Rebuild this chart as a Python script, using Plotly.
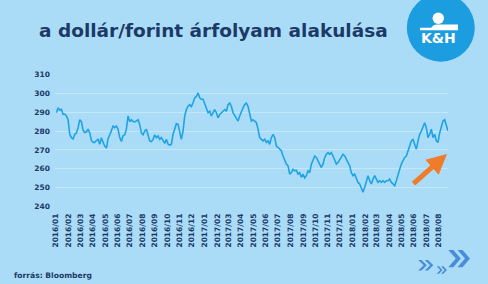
import plotly.graph_objects as go
import pandas as pd

# ---------------- data ----------------
title_text = "a dollár/forint árfolyam alakulása"
source_text = "forrás: Bloomberg"
date_start = "2016-01-02"
date_end = "2018-08-24"

rate_2016 = [289.7, 292.3, 291, 291.5, 288.8, 289, 288, 286, 278.3, 276.5,
             275.8, 278.3, 279, 281.8, 286, 285, 280.5, 279.2, 279.5, 281,
             279, 275, 274, 274, 275, 275.6, 273, 276.5, 274, 272,
             271, 276, 278, 280, 282.6, 281.8, 282.6, 281, 276.5, 274.5,
             277.5, 278, 281, 288, 285, 286, 285, 284.8, 285.5, 286,
             283.5, 279, 278, 280, 281, 277.4, 274.8, 274.4, 275.6, 278]
rate_2016b = [276.5, 277.4, 275.6, 276.5, 274.8, 273.5, 275.6, 273, 272.6, 273,
              278.3, 281, 283.9, 283.5, 280, 275.6, 280, 288, 291.4, 293.2,
              294, 293, 295, 297.6, 298.3, 300.2, 297.6, 296.8, 296.8, 294,
              292.3, 289.7, 290.5, 288, 289.7, 291.4, 289.7, 287, 288.8, 289.7,
              290.5, 291.4, 290.5, 294, 294.8, 293, 289.7, 288, 287, 285.3,
              288, 290.5, 292.3, 294, 294.8, 293, 289.7, 285.3, 286, 285.3]
rate_2017 = [284.5, 281, 276.5, 275.6, 274.8, 275.6, 274, 274.8, 273, 276.5,
             278.3, 276.5, 272.1, 271.3, 270.4, 269.6, 266.8, 265, 262.5, 261.6,
             257.2, 258, 259.8, 259, 259.3, 257.2, 258, 255.5, 257.2, 255.2,
             256.4, 259, 258, 262.5, 265, 266.8, 266, 264.2, 261.6, 260.7,
             262.5, 266, 267.7, 268.6, 267.7, 268.6, 266.8, 264.2, 262.5, 263.3,
             265, 266.8, 267.7, 266.8, 265, 262.5, 261.6, 258, 256.4, 257.2]
rate_2018 = [254.6, 252.8, 252, 249.3, 247.6, 250.2, 252.8, 256.3, 253.7, 252,
             254.6, 256.4, 254.6, 252.8, 253.7, 252.8, 253.7, 252.8, 253.7, 253.7,
             254.6, 252.8, 252, 251.1, 253.7, 257.2, 259.8, 262.5, 264.2, 266,
             266.8, 269.6, 272.1, 274.8, 275.6, 273, 270.4, 274.8, 278.3, 280,
             281.8, 284.4, 281.8, 276.5, 278.3, 281, 276.5, 278.3, 274.8, 274,
             279, 282.6, 285.3, 286, 282.6, 280]

month_labels = [f"{y}/{m:02d}" for y in (2016, 2017, 2018) for m in range(1, 13)][:32]
y_ticks = [240, 250, 260, 270, 280, 290, 300, 310]

# ---------------- build ----------------
rates = rate_2016 + rate_2016b + rate_2017 + rate_2018
dates = pd.date_range(date_start, date_end, periods=len(rates))
tickvals = [lbl.replace("/", "-") + "-01" for lbl in month_labels]

BG = "#abdcf7"
NAVY = "#1b3a68"
LINE = "#1ea4e4"
FONT = "DejaVu Sans"

W, H = 488, 284
L, R, T, B = 55, 40, 74, 77
PW, PH = W - L - R, H - T - B


def px(x):
    return (x - L) / PW


def py(y):
    return (T + PH - y) / PH


fig = go.Figure()
fig.add_trace(go.Scatter(x=dates, y=rates, mode="lines",
                         line=dict(color=LINE, width=1.6), hoverinfo="skip"))

fig.update_layout(
    width=W, height=H,
    margin=dict(l=L, r=R, t=T, b=B),
    paper_bgcolor=BG, plot_bgcolor=BG,
    showlegend=False,
    font=dict(family=FONT, color=NAVY),
    xaxis=dict(range=["2015-12-29 12:00", "2018-08-24"],
               tickvals=tickvals, ticktext=month_labels,
               tickangle=-90, showgrid=False, zeroline=False, showline=False,
               tickfont=dict(family=FONT, size=7.5, color=NAVY, weight="bold"),
               ticks="", ticklabelstandoff=4),
    yaxis=dict(range=[239.8, 310.2], tickvals=y_ticks,
               showgrid=True, gridcolor="#c3e7fb", gridwidth=1,
               zeroline=False, showline=False, ticks="",
               tickfont=dict(family=FONT, size=7.5, color=NAVY, weight="bold"),
               ticklabelstandoff=4),
)

shapes = []
# logo circle
cx, cy, rr = 440.8, 27.7, 34
shapes.append(dict(type="circle", xref="paper", yref="paper",
                   x0=px(cx - rr), x1=px(cx + rr), y0=py(cy + rr), y1=py(cy - rr),
                   fillcolor="#1c9ddf", line=dict(width=0), layer="above"))
# logo head
hx, hy, hr = 438.3, 18.3, 5.7
shapes.append(dict(type="circle", xref="paper", yref="paper",
                   x0=px(hx - hr), x1=px(hx + hr), y0=py(hy + hr), y1=py(hy - hr),
                   fillcolor="white", line=dict(width=0), layer="above"))
# logo bar
bar = [(420, 27.8), (431, 27.8), (434, 25.0), (437, 24.6), (458, 24.6), (458, 30.2), (420, 30.2)]
path = "M " + " L ".join(f"{px(a):.5f},{py(b):.5f}" for a, b in bar) + " Z"
shapes.append(dict(type="path", xref="paper", yref="paper", path=path,
                   fillcolor="white", line=dict(width=0), layer="above"))


def chevron(x0, yc, w, h, t):
    pts = [(x0, yc - h / 2), (x0 + t, yc - h / 2), (x0 + w, yc), (x0 + t, yc + h / 2),
           (x0, yc + h / 2), (x0 + w - t, yc)]
    return "M " + " L ".join(f"{px(a):.5f},{py(b):.5f}" for a, b in pts) + " Z"


CHEV = "#4a8cd8"
for (x0, yc, w, h, t, gap) in [(418.3, 265.3, 8.5, 10.5, 3.2, 6.5),
                                (436.7, 270.0, 5.8, 7.5, 2.3, 4.4),
                                (448.3, 258.6, 12.5, 17.3, 5.0, 9.2)]:
    for k in range(2):
        shapes.append(dict(type="path", xref="paper", yref="paper",
                           path=chevron(x0 + k * gap, yc, w, h, t),
                           fillcolor=CHEV, line=dict(width=0), layer="above"))

fig.update_layout(shapes=shapes)

annotations = [
    dict(text=title_text, xref="paper", yref="paper", x=px(36.5), y=py(30),
         xanchor="left", yanchor="middle", showarrow=False,
         font=dict(family=FONT, size=18.5, color=NAVY, weight="bold")),
    dict(text="K&H", xref="paper", yref="paper", x=px(438.8), y=py(38.3),
         xanchor="center", yanchor="middle", showarrow=False,
         font=dict(family=FONT, size=14, color="white", weight="bold")),
    dict(text=source_text, xref="paper", yref="paper", x=px(11.5), y=py(275),
         xanchor="left", yanchor="middle", showarrow=False,
         font=dict(family=FONT, size=7.6, color=NAVY, weight="bold")),
    dict(text="", xref="paper", yref="paper", x=px(447), y=py(154),
         ax=-35, ay=31, showarrow=True, arrowhead=2, arrowsize=0.8,
         arrowwidth=5, arrowcolor="#f07c2a"),
]
fig.update_layout(annotations=annotations)

fig.write_html("out.html")
